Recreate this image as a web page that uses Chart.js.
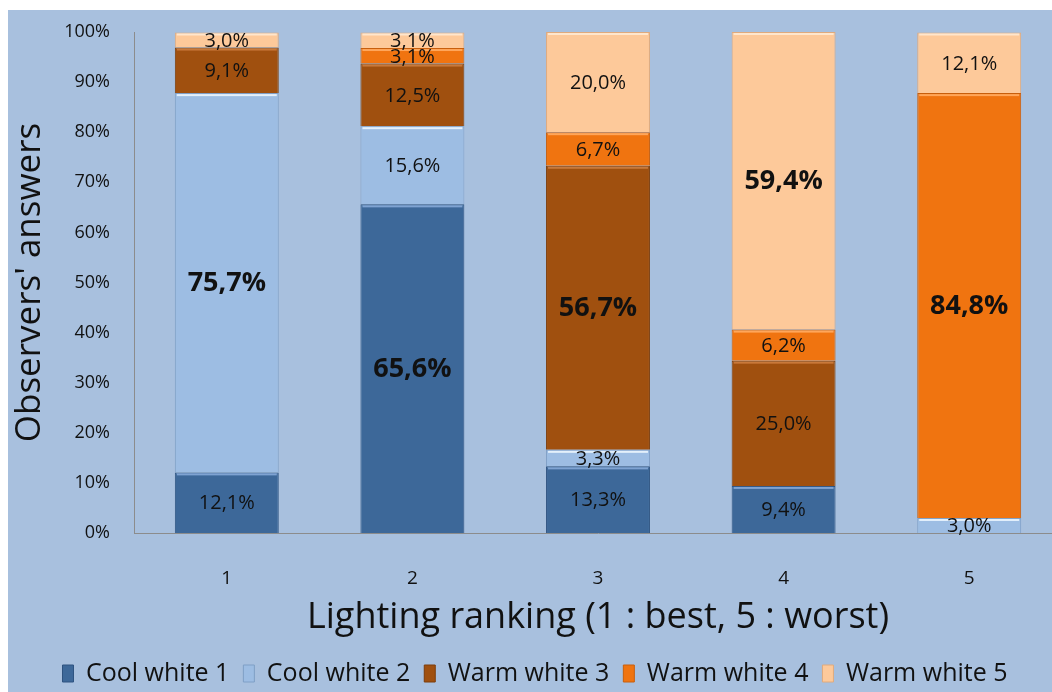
<!DOCTYPE html>
<html>
<head>
<meta charset="utf-8">
<script src="https://cdn.jsdelivr.net/npm/chart.js@4/dist/chart.umd.min.js"></script>
<style>
  html, body { margin: 0; padding: 0; background: #fff; }
  #wrap { position: absolute; left: 8px; top: 10px; width: 1044px; height: 682px; background: #a8c0de; overflow: hidden; }
  #c { width: 1064px; height: 686px; }
</style>
</head>
<body>
<div id="wrap"><canvas id="c" width="1064" height="686"></canvas></div>
<script>
/* observers' lighting ranking, share of answers per lamp */
var RANKS = ['1', '2', '3', '4', '5'];
var SERIES = ['Cool white 1', 'Cool white 2', 'Warm white 3', 'Warm white 4', 'Warm white 5'];
var COOL1 = [12.1, 65.6, 13.3, 9.4, 0];
var COOL2 = [75.7, 15.6, 3.3, 0, 3.0];
var WARM3 = [9.1, 12.5, 56.7, 25.0, 0];
var WARM4 = [0, 3.1, 6.7, 6.2, 84.8];
var WARM5 = [3.0, 3.1, 20.0, 59.4, 12.1];
var Y_TICKS = [0, 10, 20, 30, 40, 50, 60, 70, 80, 90, 100];

var FILL = ['#3d6899', '#9dbde3', '#a0500f', '#f07410', '#fdc99a'];
var EDGE = ['#2e5380', '#7f9fc6', '#7d3d0a', '#c85e0c', '#e0aa7c'];
var SHINE = ['#7fa3d2', '#e4f0fb', '#c9793a', '#ffa65a', '#ffe6cc'];
var FONT = '"Open Sans", sans-serif';

var rows = [COOL1, COOL2, WARM3, WARM4, WARM5];

/* value labels in the middle of each segment, big ones bold */
var segLabels = {
  id: 'segLabels',
  afterDatasetsDraw: function (chart) {
    var ctx = chart.ctx;
    ctx.save();
    chart.data.datasets.forEach(function (ds, di) {
      chart.getDatasetMeta(di).data.forEach(function (bar, i) {
        var v = ds.data[i];
        if (!v) { return; }
        var top = bar.y, bot = bar.base;
        // bevel highlight on top edge
        ctx.fillStyle = SHINE[di];
        ctx.fillRect(bar.x - bar.width / 2 + 2, top + 1, bar.width - 4, 2);
        var big = v > 50;
        ctx.font = (big ? 'bold 27px ' : '20px ') + FONT;
        ctx.fillStyle = '#111';
        ctx.textAlign = 'center';
        ctx.textBaseline = 'middle';
        ctx.fillText(v.toFixed(1).replace('.', ',') + '%', bar.x, (top + bot) / 2 + 1);
      });
    });
    ctx.restore();
  }
};

new Chart(document.getElementById('c'), {
  type: 'bar',
  data: {
    labels: RANKS,
    datasets: SERIES.map(function (name, i) {
      return {
        label: name, data: rows[i], backgroundColor: FILL[i],
        borderColor: EDGE[i], borderWidth: 1,
        barPercentage: 0.56, categoryPercentage: 1
      };
    })
  },
  options: {
    responsive: false,
    animation: false,
    layout: { padding: { left: 0, top: 22, right: 10, bottom: 0 } },
    plugins: {
      legend: {
        position: 'bottom',
        labels: { font: { family: FONT, size: 25 }, color: '#111', boxWidth: 11, boxHeight: 17, padding: 14 },
        onClick: null
      },
      tooltip: { enabled: false }
    },
    scales: {
      x: {
        stacked: true,
        afterFit: function (s) { s.height = 114; s.paddingLeft = 0; s.paddingRight = 0; },
        grid: { display: false, drawTicks: false },
        border: { color: '#8c8c8c', width: 1 },
        ticks: { font: { family: FONT, size: 19 }, color: '#111', padding: 34 },
        title: { display: true, text: 'Lighting ranking (1 : best, 5 : worst)', font: { family: FONT, size: 36 }, color: '#111', padding: { top: 0, bottom: 8 } }
      },
      y: {
        stacked: true,
        min: 0, max: 100,
        afterBuildTicks: function (s) { s.ticks = Y_TICKS.map(function (v) { return { value: v }; }); },
        afterFit: function (s) { s.width = 126; s.paddingTop = 0; s.paddingBottom = 0; },
        grid: { display: false, drawTicks: false },
        border: { color: '#8c8c8c', width: 1 },
        ticks: { font: { family: FONT, size: 18 }, color: '#111', padding: 24, callback: function (v) { return v + '%'; } },
        title: { display: true, text: "Observers' answers", font: { family: FONT, size: 35 }, color: '#111', padding: 1 }
      }
    }
  },
  plugins: [segLabels]
});
</script>
</body>
</html>
